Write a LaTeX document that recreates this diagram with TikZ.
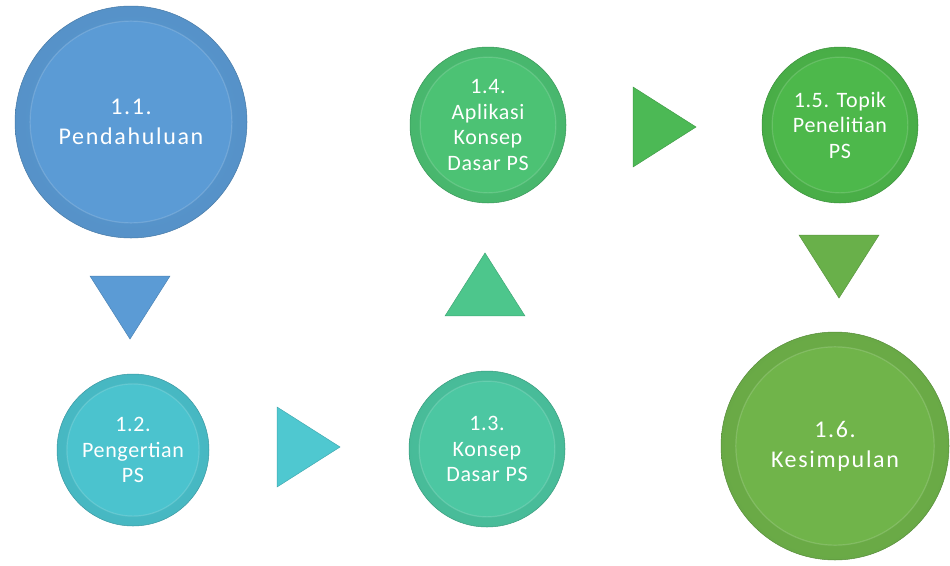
\documentclass[tikz,border=0pt]{standalone}
\usepackage{fontspec}
\setmainfont{Carlito}
\usetikzlibrary{shapes.geometric}
\definecolor{cPend}{HTML}{5B9BD5}
\definecolor{cPeng}{HTML}{4BC3CE}
\definecolor{cKons}{HTML}{4CC7A2}
\definecolor{cApli}{HTML}{4CC274}
\definecolor{cTopk}{HTML}{4DB84B}
\definecolor{cKesm}{HTML}{70B44A}
\definecolor{tPend}{HTML}{5B9BD5}
\definecolor{tPeng}{HTML}{4FC8D0}
\definecolor{tKons}{HTML}{4DC68C}
\definecolor{tApli}{HTML}{4CB955}
\definecolor{tTopk}{HTML}{69B04A}
\begin{document}
\begin{tikzpicture}[x=1pt, y=-1pt, every node/.style={align=center}]
\tikzset{
  topic/.style 2 args={circle, inner sep=0pt, minimum size=#2, line width=0.5pt, draw=#1!78!black,
    inner color=#1, outer color=#1!94!black, text=white,
    path picture={
      \fill[#1] (path picture bounding box.center) circle[radius=0.435*#2];
      \draw[white, opacity=0.15, line width=1.2pt] (path picture bounding box.center) circle[radius=0.435*#2];
    }},
  smalltext/.style={font=\fontsize{22}{25.5}\selectfont\addfontfeatures{LetterSpace=3}},
  bigtext/.style={font=\fontsize{24}{30}\selectfont\addfontfeatures{LetterSpace=7}},
  steptri/.style 2 args={isosceles triangle, isosceles triangle stretches, inner sep=0pt,
    minimum width=80, minimum height=63, fill=#1, draw=#1!85!black, line width=0.5pt,
    shape border rotate=#2}
}
\useasboundingbox (0,0) rectangle (950,565);

\node[topic={cPend}{232pt}, bigtext] (pendahuluan) at (131,122) {1.1.\\Pendahuluan};
\node[topic={cPeng}{152pt}, smalltext] (pengertian) at (133,450) {1.2.\\Pengertian\\PS};
\node[topic={cKons}{156pt}, smalltext] (konsep) at (487,449) {1.3.\\Konsep\\Dasar PS};
\node[topic={cApli}{156pt}, smalltext] (aplikasi) at (488,125) {1.4.\\Aplikasi\\Konsep\\Dasar PS};
\node[topic={cTopk}{156pt}, smalltext] (topik) at (840,125) {1.5. Topik\\Penelitian\\PS};
\node[topic={cKesm}{228pt}, bigtext] (kesimpulan) at (835,446) {1.6.\\Kesimpulan};

\node[steptri={tPend}{-90}] (toPeng) at (130,298) {};
\node[steptri={tPeng}{0}] (toKons) at (299,447) {};
\node[steptri={tKons}{90}] (toApli) at (485,294) {};
\node[steptri={tApli}{0}] (toTopk) at (655,127) {};
\node[steptri={tTopk}{-90}] (toKesm) at (839,257) {};
\end{tikzpicture}
\end{document}
